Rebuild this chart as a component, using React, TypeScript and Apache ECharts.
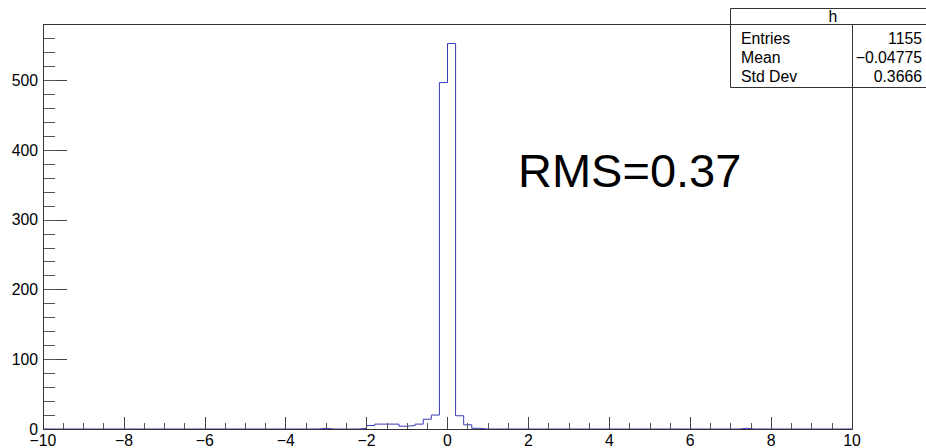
import React, { useEffect, useRef } from "react";
import * as echarts from "echarts";

// Histogram definition (ROOT TH1 "h")
const xMin = -10;
const xMax = 10;
const nBins = 100;
const yMax = 581;

// Axis tick values
const yMajorTicks = [0, 100, 200, 300, 400, 500];
const yMinorTicks = [0, 20, 40, 60, 80, 100, 120, 140, 160, 180, 200, 220, 240, 260, 280, 300, 320, 340, 360, 380, 400, 420, 440, 460, 480, 500, 520, 540, 560, 580];

// Non-empty bins: lower edges and counts
const filledBinLowEdges = [-3.2, -2.2, -2.0, -1.8, -1.6, -1.4, -1.2, -1.0, -0.8, -0.6, -0.4, -0.2, 0.0, 0.2, 0.4, 0.6, 7.2];
const filledBinCounts = [1, 1, 5, 7, 7, 7, 4, 5, 7, 14, 20, 497, 553, 19, 6, 1, 1];

// Stats box
const statsTitle = "h";
const statsLabels = ["Entries", "Mean", "Std Dev"];
const statsValues = ["1155", "\u22120.04775", "0.3666"];
const annotation = "RMS=0.37";

const FONT = "'Liberation Sans', Arial, Helvetica, sans-serif";

function buildHistogram(): [number, number][] {
  const width = (xMax - xMin) / nBins;
  const counts = new Array(nBins).fill(0);
  filledBinLowEdges.forEach((lo, i) => {
    const idx = Math.round((lo - xMin) / width);
    counts[idx] = filledBinCounts[i];
  });
  const pts: [number, number][] = [];
  for (let i = 0; i < nBins; i++) {
    pts.push([+(xMin + i * width).toFixed(4), counts[i]]);
  }
  pts.push([xMax, counts[nBins - 1]]);
  return pts;
}

export default function App() {
  const ref = useRef<HTMLDivElement>(null);
  useEffect(() => {
    document.body.style.margin = "0";
    const chart = echarts.init(ref.current!, null, { renderer: "svg" });
    const fmt = (v: number) => String(v).replace("-", "\u2212");
    const rowY = [38, 57, 76];
    const fs = 15.8;
    const G = { left: 43, right: 74, top: 24, bottom: 19 };
    chart.setOption({
      animation: false,
      backgroundColor: "#fff",
      grid: { ...G, show: false },
      xAxis: {
        type: "value",
        min: xMin,
        max: xMax,
        interval: 2,
        z: 5,
        name: "",
        axisLine: { show: false, onZero: false },
        axisTick: { show: true, inside: true, length: 12, lineStyle: { color: "#444" } },
        minorTick: { show: true, splitNumber: 4, length: 6, lineStyle: { color: "#555" } },
        splitLine: { show: false },
        axisLabel: {
          color: "#000",
          fontSize: fs,
          fontFamily: FONT,
          margin: 3,
          formatter: fmt,
        },
      },
      yAxis: [
        {
          type: "value",
          min: 0,
          max: yMax,
          position: "left",
          z: 5,
          name: "",
          axisLine: { show: false, onZero: false },
          axisTick: {
            show: true,
            inside: true,
            length: 24,
            customValues: yMajorTicks,
            lineStyle: { color: "#444" },
          },
          splitLine: { show: false },
          axisLabel: {
            color: "#000",
            fontSize: fs,
            fontFamily: FONT,
            margin: 5,
            customValues: yMajorTicks,
            formatter: fmt,
          },
        },
        {
          type: "value",
          min: 0,
          max: yMax,
          position: "left",
          z: 5,
          name: "",
          axisLine: { show: false, onZero: false },
          axisTick: {
            show: true,
            inside: true,
            length: 12,
            customValues: yMinorTicks,
            lineStyle: { color: "#555" },
          },
          splitLine: { show: false },
          axisLabel: { show: false },
        },
      ],
      series: [
        {
          type: "line",
          step: "end",
          yAxisIndex: 0,
          data: buildHistogram(),
          showSymbol: false,
          symbol: "none",
          z: 2,
          lineStyle: { color: "#3a3ab8", width: 1 },
        },
      ],
      graphic: [
        {
          type: "rect",
          z: 8,
          silent: true,
          shape: { x: 43.5, y: 24.5, width: 926 - G.left - G.right, height: 448 - G.top - G.bottom },
          style: { fill: "none", stroke: "#333", lineWidth: 1 },
        },
        {
          type: "text",
          x: 518,
          y: 170,
          z: 10,
          style: {
            text: annotation,
            fontSize: 47,
            fontFamily: FONT,
            fill: "#000",
            align: "left",
            verticalAlign: "middle",
          },
        },
        {
          type: "group",
          z: 20,
          children: [
            {
              type: "rect",
              shape: { x: 730.5, y: 8.5, width: 210, height: 79 },
              style: { fill: "#fff", stroke: "#333", lineWidth: 1 },
            },
            {
              type: "line",
              shape: { x1: 730.5, y1: 24.5, x2: 940, y2: 24.5 },
              style: { stroke: "#333", lineWidth: 1 },
            },
            {
              type: "text",
              x: 833,
              y: 16,
              style: {
                text: statsTitle,
                fontSize: fs,
                fontFamily: FONT,
                fill: "#000",
                align: "center",
                verticalAlign: "middle",
              },
            },
            ...statsLabels.map((t, i) => ({
              type: "text",
              x: 741,
              y: rowY[i],
              style: {
                text: t,
                fontSize: fs,
                fontFamily: FONT,
                fill: "#000",
                align: "left",
                verticalAlign: "middle",
              },
            })),
            ...statsValues.map((t, i) => ({
              type: "text",
              x: 922,
              y: rowY[i],
              style: {
                text: t,
                fontSize: fs,
                fontFamily: FONT,
                fill: "#000",
                align: "right",
                verticalAlign: "middle",
              },
            })),
          ],
        },
      ],
    });
    return () => chart.dispose();
  }, []);
  return (
    <div
      ref={ref}
      style={{ position: "fixed", left: 0, top: 0, width: 926, height: 448 }}
    />
  );
}
